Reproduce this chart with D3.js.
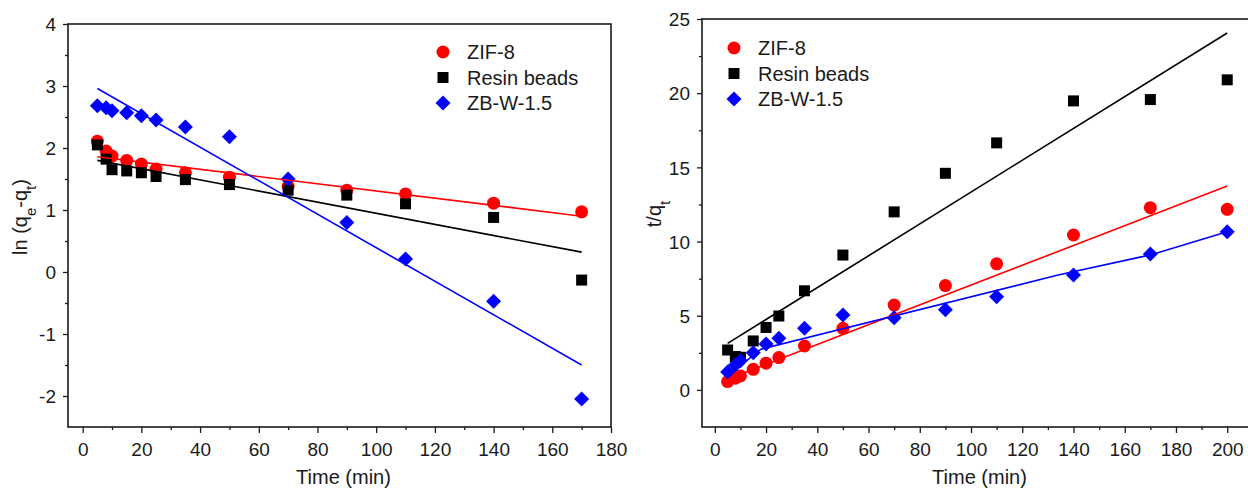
<!DOCTYPE html>
<html>
<head>
<meta charset="utf-8">
<script src="https://cdn.jsdelivr.net/npm/d3@7"></script>
<style>
  body { margin: 0; background: #fff; }
  svg { display: block; font-family: "Liberation Sans", Arial, sans-serif; }
  .tick text { font-size: 19px; fill: #1a1a1a; font-family: "Liberation Sans", Arial, sans-serif; }
  .domain { display: none; }
</style>
</head>
<body>
<div id="chart"></div>
<script>
// series names and colours
const seriesNames = ["ZIF-8", "Resin beads", "ZB-W-1.5"];
const seriesColors = ["#ff0000", "#000000", "#0000ff"];
const seriesShapes = ["circle", "square", "diamond"];

// left panel: ln(qe-qt) vs time
const timeLeft = [5, 8, 10, 15, 20, 25, 35, 50, 70, 90, 110, 140, 170];
const lnZif = [2.11, 1.95, 1.87, 1.80, 1.74, 1.66, 1.60, 1.53, 1.38, 1.32, 1.26, 1.11, 0.97];
const lnResin = [2.05, 1.82, 1.65, 1.63, 1.60, 1.54, 1.49, 1.41, 1.32, 1.24, 1.10, 0.88, -0.13];
const lnZb = [2.68, 2.65, 2.60, 2.57, 2.52, 2.45, 2.34, 2.18, 1.50, 0.80, 0.21, -0.47, -2.05];
const fitLnZif = [[5, 1.86], [170, 0.90]];
const fitLnResin = [[5, 1.80], [170, 0.32]];
const fitLnZb = [[5, 2.96], [170, -1.50]];

// right panel: t/qt vs time
const timeRight = [5, 8, 10, 15, 20, 25, 35, 50, 70, 90, 110, 140, 170, 200];
const tqZif = [0.56, 0.79, 0.94, 1.39, 1.80, 2.18, 2.96, 4.15, 5.72, 7.03, 8.50, 10.44, 12.28, 12.17];
const tqResin = [2.69, 2.25, 2.20, 3.30, 4.21, 4.98, 6.68, 9.09, 12.0, 14.6, 16.65, 19.48, 19.57, 20.9];
const tqZb = [1.20, 1.68, 1.97, 2.51, 3.09, 3.48, 4.15, 5.05, 4.87, 5.41, 6.28, 7.74, 9.16, 10.66];
const fitTqZif = [[5, 0.72], [200, 13.74]];
const fitTqResin = [[5, 3.14], [200, 24.06]];
const fitTqZb = [[5, 0.95], [18, 2.75], [134, 7.74], [170, 9.10], [200, 10.66]];

// tick values
const xTicksLeft = d3.range(0, 181, 20);
const xMinorLeft = d3.range(10, 180, 20);
const yTicksLeft = d3.range(-2, 4.1, 1);
const yMinorLeft = d3.range(-1.5, 4, 1);
const xTicksRight = d3.range(0, 201, 20);
const xMinorRight = d3.range(10, 201, 20);
const yTicksRight = d3.range(0, 26, 5);
const yMinorRight = d3.range(2.5, 25, 5);

// plain hyphen for negatives, like the original
const fmt = d => String(Math.round(d));

const svg = d3.select("#chart")
    .append("svg")
    .attr("width", 1248)
    .attr("height", 491);

function drawPanel(cfg) {
    const x = d3.scaleLinear().domain(cfg.xDomain).range(cfg.xRange);
    const y = d3.scaleLinear().domain(cfg.yDomain).range(cfg.yRange);
    const g = svg.append("g");

    // minor ticks
    g.append("g")
        .attr("transform", `translate(0, ${cfg.yRange[0]})`)
        .call(d3.axisBottom(x).tickValues(cfg.xMinor).tickSize(3).tickFormat(""))
        .selectAll("line").attr("stroke", "#1a1a1a").attr("stroke-width", 1.3);
    g.append("g")
        .attr("transform", `translate(${cfg.xRange[0]}, 0)`)
        .call(d3.axisLeft(y).tickValues(cfg.yMinor).tickSize(3).tickFormat(""))
        .selectAll("line").attr("stroke", "#1a1a1a").attr("stroke-width", 1.3);

    // major ticks with labels
    const xa = g.append("g")
        .attr("transform", `translate(0, ${cfg.yRange[0]})`)
        .call(d3.axisBottom(x).tickValues(cfg.xTicks).tickSize(6).tickPadding(10).tickFormat(fmt));
    xa.selectAll("line").attr("stroke", "#1a1a1a").attr("stroke-width", 1.3);
    const ya = g.append("g")
        .attr("transform", `translate(${cfg.xRange[0]}, 0)`)
        .call(d3.axisLeft(y).tickValues(cfg.yTicks).tickSize(5).tickPadding(7).tickFormat(fmt));
    ya.selectAll("line").attr("stroke", "#1a1a1a").attr("stroke-width", 1.3);
    ya.selectAll("text").attr("dy", "0.35em");

    // frame
    g.append("rect")
        .attr("x", cfg.xRange[0])
        .attr("y", cfg.yRange[1])
        .attr("width", cfg.xRange[1] - cfg.xRange[0])
        .attr("height", cfg.yRange[0] - cfg.yRange[1])
        .attr("fill", "none")
        .attr("stroke", "#1a1a1a")
        .attr("stroke-width", 1.6);

    // markers
    cfg.series.forEach((vals, i) => {
        const pts = cfg.time.map((t, k) => [t, vals[k]]);
        drawMarkers(g, pts.map(p => [x(p[0]), y(p[1])]), i);
    });

    // fit lines
    const line = d3.line().x(d => x(d[0])).y(d => y(d[1]));
    cfg.fits.forEach((f, i) => {
        g.append("path")
            .attr("d", line(f))
            .attr("fill", "none")
            .attr("stroke", seriesColors[i])
            .attr("stroke-width", 1.6);
    });

    // legend
    seriesNames.forEach((name, i) => {
        const ly = cfg.legend.y + i * 25.5;
        drawMarkers(g, [[cfg.legend.x, ly]], i);
        g.append("text")
            .attr("x", cfg.legend.x + 24)
            .attr("y", ly)
            .attr("dy", "0.36em")
            .style("font-size", "20px")
            .attr("fill", "#1a1a1a")
            .text(name);
    });

    // x-axis label
    g.append("text")
        .attr("x", (cfg.xRange[0] + cfg.xRange[1]) / 2 + 4)
        .attr("y", 484)
        .style("text-anchor", "middle")
        .style("font-size", "20px")
        .attr("fill", "#1a1a1a")
        .text("Time (min)");

    // y-axis label
    const yl = g.append("text")
        .attr("transform", `translate(${cfg.yLabel.x}, ${cfg.yLabel.y}) rotate(-90)`)
        .style("text-anchor", "middle")
        .style("font-size", "20px")
        .attr("fill", "#1a1a1a");
    cfg.yLabel.parts.forEach(p => {
        const ts = yl.append("tspan").text(p[0]);
        if (p[1]) ts.attr("baseline-shift", "sub").style("font-size", "15px");
    });
}

function drawMarkers(g, pts, i) {
    const color = seriesColors[i];
    const shape = seriesShapes[i];
    if (shape === "circle") {
        g.selectAll(null).data(pts).join("circle")
            .attr("cx", d => d[0]).attr("cy", d => d[1])
            .attr("r", 6.5).attr("fill", color);
    } else if (shape === "square") {
        g.selectAll(null).data(pts).join("rect")
            .attr("x", d => d[0] - 5.5).attr("y", d => d[1] - 5.5)
            .attr("width", 11).attr("height", 11).attr("fill", color);
    } else {
        g.selectAll(null).data(pts).join("path")
            .attr("d", d => `M${d[0]},${d[1] - 7.5}L${d[0] + 7.5},${d[1]}L${d[0]},${d[1] + 7.5}L${d[0] - 7.5},${d[1]}Z`)
            .attr("fill", color);
    }
}

drawPanel({
    xDomain: [-5, 180], xRange: [68, 611],
    yDomain: [-2.5, 4], yRange: [427, 24],
    xTicks: xTicksLeft, xMinor: xMinorLeft,
    yTicks: yTicksLeft, yMinor: yMinorLeft,
    time: timeLeft,
    series: [lnZif, lnResin, lnZb],
    fits: [fitLnZif, fitLnResin, fitLnZb],
    legend: { x: 443, y: 52 },
    yLabel: { x: 27, y: 217, parts: [["ln (q", false], ["e", true], ["-q", false], ["t", true], [")", false]] }
});

drawPanel({
    xDomain: [-5, 208.5], xRange: [702, 1249],
    yDomain: [-2.5, 25], yRange: [427, 19],
    xTicks: xTicksRight, xMinor: xMinorRight,
    yTicks: yTicksRight, yMinor: yMinorRight,
    time: timeRight,
    series: [tqZif, tqResin, tqZb],
    fits: [fitTqZif, fitTqResin, fitTqZb],
    legend: { x: 734, y: 48 },
    yLabel: { x: 661, y: 214, parts: [["t/q", false], ["t", true]] }
});
</script>
</body>
</html>
